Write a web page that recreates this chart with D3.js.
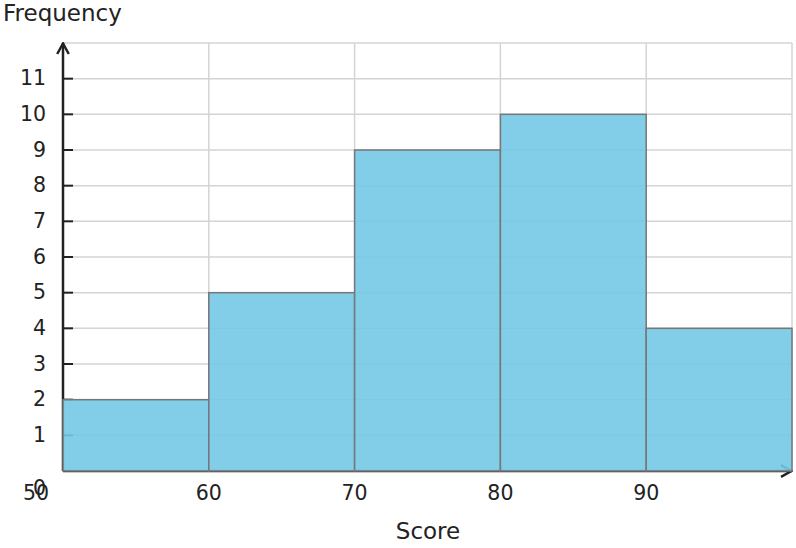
<!DOCTYPE html>
<html>
<head>
<meta charset="utf-8">
<script src="https://cdn.jsdelivr.net/npm/d3@7"></script>
<style>
  body { margin: 0; background: #fff; }
  svg { display: block; font-family: "DejaVu Sans", sans-serif; }
</style>
</head>
<body>
<svg></svg>
<script>
// histogram bins and counts
const binStarts = [50, 60, 70, 80, 90]
const binEnds = [60, 70, 80, 90, 100]
const counts = [2, 5, 9, 10, 4]
const xTicks = [50, 60, 70, 80, 90]
const yTicks = [0, 1, 2, 3, 4, 5, 6, 7, 8, 9, 10, 11]

const svgWidth = 796
const svgHeight = 548
const plotLeft = 63, plotRight = 792, plotTop = 43, plotBottom = 471

const svg = d3.select('svg').attr('width', svgWidth).attr('height', svgHeight)

const xScale = d3.scaleLinear().domain([50, 100]).range([plotLeft, plotRight])
const yScale = d3.scaleLinear().domain([0, 12]).range([plotBottom, plotTop])

// grid
const grid = svg.append('g').attr('stroke', '#d4d4d4').attr('stroke-width', 1.5)
grid.selectAll('line.h')
  .data(d3.range(1, 13))
  .enter().append('line')
  .attr('class', 'h')
  .attr('x1', plotLeft).attr('x2', plotRight)
  .attr('y1', d => yScale(d)).attr('y2', d => yScale(d))
grid.selectAll('line.v')
  .data([60, 70, 80, 90, 100])
  .enter().append('line')
  .attr('class', 'v')
  .attr('y1', plotTop).attr('y2', plotBottom)
  .attr('x1', d => xScale(d)).attr('x2', d => xScale(d))

// y tick marks
svg.append('g').selectAll('line')
  .data(yTicks.filter(d => d > 0))
  .enter().append('line')
  .attr('x1', plotLeft).attr('x2', plotLeft + 10)
  .attr('y1', d => yScale(d)).attr('y2', d => yScale(d))
  .attr('stroke', '#222').attr('stroke-width', 2)

// axes with arrows
const defs = svg.append('defs')
defs.append('marker')
  .attr('id', 'arrow')
  .attr('viewBox', '0 0 14 14')
  .attr('refX', 13).attr('refY', 7)
  .attr('markerWidth', 14).attr('markerHeight', 14)
  .attr('markerUnits', 'userSpaceOnUse')
  .attr('orient', 'auto')
  .append('path')
  .attr('d', 'M2,1.2 L12.5,7 L2,12.8')
  .attr('fill', 'none').attr('stroke', '#222').attr('stroke-width', 2.5)

svg.append('line')
  .attr('x1', plotLeft).attr('y1', plotBottom)
  .attr('x2', plotLeft).attr('y2', plotTop)
  .attr('stroke', '#222').attr('stroke-width', 2.5)
  .attr('marker-end', 'url(#arrow)')
svg.append('line')
  .attr('x1', plotLeft).attr('y1', plotBottom)
  .attr('x2', plotRight).attr('y2', plotBottom)
  .attr('stroke', '#222').attr('stroke-width', 2.5)
  .attr('marker-end', 'url(#arrow)')

// bars
svg.append('g').selectAll('rect')
  .data(counts)
  .enter().append('rect')
  .attr('x', (d, i) => xScale(binStarts[i]))
  .attr('width', (d, i) => xScale(binEnds[i]) - xScale(binStarts[i]))
  .attr('y', d => yScale(d))
  .attr('height', d => plotBottom - yScale(d))
  .attr('fill', 'rgb(116,200,229)')
  .attr('fill-opacity', 0.9)
  .attr('stroke', '#777')
  .attr('stroke-width', 1.5)

// y tick labels
svg.append('g').selectAll('text')
  .data(yTicks)
  .enter().append('text')
  .attr('x', 46)
  .attr('y', d => d === 0 ? yScale(d) + 24 : yScale(d) + 6.5)
  .attr('text-anchor', 'end')
  .attr('font-size', 20.5)
  .attr('fill', '#222')
  .text(d => d)

// x tick labels
svg.append('g').selectAll('text')
  .data(xTicks)
  .enter().append('text')
  .attr('x', d => d === 50 ? xScale(d) - 27 : xScale(d))
  .attr('y', plotBottom + 28.5)
  .attr('text-anchor', 'middle')
  .attr('font-size', 20.5)
  .attr('fill', '#222')
  .text(d => d)

// axis titles
svg.append('text')
  .attr('x', 3).attr('y', 21)
  .attr('font-size', 23)
  .attr('fill', '#222')
  .text('Frequency')
svg.append('text')
  .attr('x', 428).attr('y', 539)
  .attr('text-anchor', 'middle')
  .attr('font-size', 23)
  .attr('fill', '#222')
  .text('Score')
</script>
</body>
</html>
